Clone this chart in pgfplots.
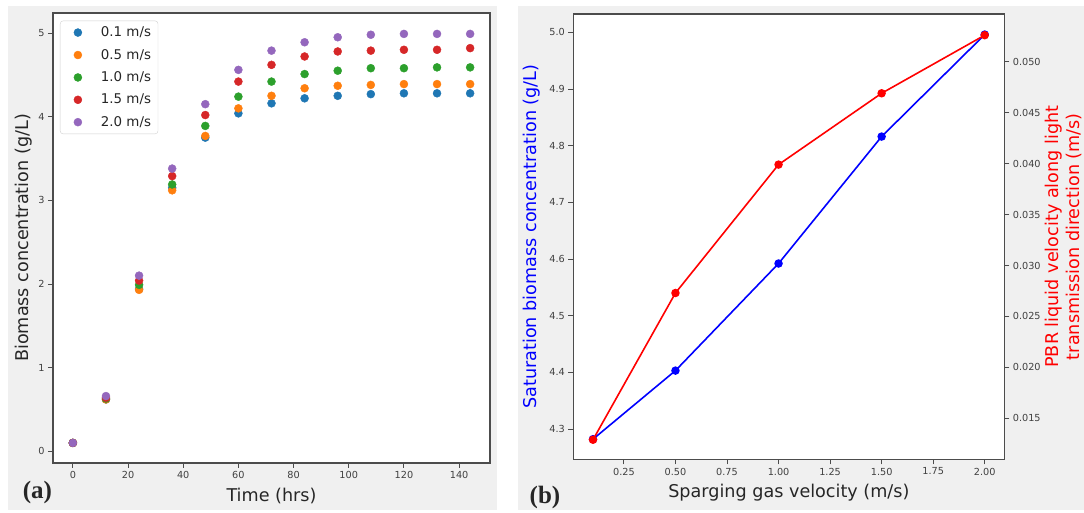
\documentclass[border=0pt]{standalone}
\usepackage{fontspec}
\setmainfont{DejaVu Sans}
\newfontfamily\panelfont{Liberation Serif}
\usepackage{pgfplots}
\usepackage{pgfplotstable}
\pgfplotsset{compat=1.18}
\definecolor{bgray}{HTML}{F0F0F0}
\definecolor{tabblue}{HTML}{1F77B4}
\definecolor{taborange}{HTML}{FF7F0E}
\definecolor{tabgreen}{HTML}{2CA02C}
\definecolor{tabred}{HTML}{D62728}
\definecolor{tabpurple}{HTML}{9467BD}

\pgfplotstableread{
t   v01  v05  v10  v15  v20
0   0.10 0.10 0.10 0.10 0.10
12  0.62 0.62 0.63 0.64 0.66
24  1.94 1.93 1.99 2.04 2.10
36  3.15 3.12 3.19 3.29 3.38
48  3.75 3.77 3.89 4.02 4.15
60  4.04 4.10 4.24 4.42 4.56
72  4.16 4.25 4.42 4.62 4.79
84  4.22 4.34 4.51 4.72 4.89
96  4.25 4.37 4.55 4.78 4.95
108 4.27 4.38 4.58 4.79 4.98
120 4.28 4.39 4.58 4.80 4.99
132 4.28 4.39 4.59 4.80 4.99
144 4.28 4.39 4.59 4.82 4.99
}\growth

\pgfplotstableread{
v   sat   liq
0.1 4.282 0.0129
0.5 4.403 0.0273
1.0 4.592 0.0399
1.5 4.816 0.0469
2.0 4.996 0.0526
}\satdata

\pgfplotsset{
  mystyle/.style={
    scale only axis,
    axis line style={black!70, line width=1.1pt},
    every tick/.style={black!70, line width=0.9pt},
    tick align=outside,
    major tick length=5pt,
    tick label style={font=\fontsize{9.7pt}{11pt}\selectfont, text=black!75},
    label style={font=\fontsize{17.6pt}{20.5pt}\selectfont, text=black!85},
    /pgf/number format/assume math mode=true,
  },
}

\begin{document}
\begin{tikzpicture}
\path[use as bounding box, fill=white] (0pt,0pt) rectangle (1084pt,513pt);
\fill[bgray] (8pt,3pt) rectangle (497pt,507pt);
\fill[bgray] (518pt,3pt) rectangle (1084pt,507pt);

% ---------- panel (a) ----------
\begin{axis}[mystyle,
  axis background/.style={fill=white},
  at={(53pt,50pt)}, anchor=south west,
  width=437pt, height=450pt,
  xmin=-7.2, xmax=151.2, ymin=-0.14, ymax=5.24,
  xtick={0,20,40,60,80,100,120,140},
  ytick={0,1,2,3,4,5},
  tick pos=left,
  xlabel={Time (hrs)},
  ylabel={Biomass concentration (g/L)},
  xlabel style={at={(axis description cs:0.5,-0.0733)}, anchor=center},
  ylabel style={at={(axis description cs:-0.0675,0.5)}, anchor=center},
  legend style={at={(axis description cs:0.016,0.983)}, anchor=north west,
    draw=black!18, rounded corners=3pt, fill=white,
    font=\fontsize{13.4pt}{15pt}\selectfont, text=black!85,
    inner xsep=5pt, inner ysep=4pt, row sep=7pt},
  legend cell align=left,
  legend image code/.code={\path[draw=none,fill=none] (0pt,0pt) -- (33.7pt,0pt);
    \draw[#1] plot[only marks] coordinates {(12.7pt,0pt)};},
]
\addplot[only marks, mark=*, mark size=4pt, color=tabblue] table[x=t,y=v01]{\growth};
\addlegendentry{0.1 m/s}
\addplot[only marks, mark=*, mark size=4pt, color=taborange] table[x=t,y=v05]{\growth};
\addlegendentry{0.5 m/s}
\addplot[only marks, mark=*, mark size=4pt, color=tabgreen] table[x=t,y=v10]{\growth};
\addlegendentry{1.0 m/s}
\addplot[only marks, mark=*, mark size=4pt, color=tabred] table[x=t,y=v15]{\growth};
\addlegendentry{1.5 m/s}
\addplot[only marks, mark=*, mark size=4pt, color=tabpurple] table[x=t,y=v20]{\growth};
\addlegendentry{2.0 m/s}
\end{axis}

% ---------- panel (b) ----------
\begin{axis}[mystyle,
  axis background/.style={fill=white},
  at={(573.4pt,53.7pt)}, anchor=south west,
  width=430.9pt, height=445.3pt,
  xmin=0.005, xmax=2.095, ymin=4.2465, ymax=5.0323,
  xtick={0.25,0.5,0.75,1.0,1.25,1.5,1.75,2.0},
  ytick={4.3,4.4,4.5,4.6,4.7,4.8,4.9,5.0},
  tick pos=left,
  xticklabel style={/pgf/number format/.cd, fixed, fixed zerofill, precision=2},
  yticklabel style={/pgf/number format/.cd, fixed, fixed zerofill, precision=1},
  xlabel={Sparging gas velocity (m/s)},
  ylabel={Saturation biomass concentration (g/L)},
  xlabel style={at={(axis description cs:0.5,-0.0757)}, anchor=center},
  ylabel style={at={(axis description cs:-0.0974,0.5)}, anchor=center, text=blue},
]
\addplot[blue, line width=1.6pt, mark=*, mark size=3.4pt, mark options={solid}] table[x=v,y=sat]{\satdata};
\end{axis}

\begin{axis}[mystyle,
  at={(573.4pt,53.7pt)}, anchor=south west,
  width=430.9pt, height=445.3pt,
  xmin=0.005, xmax=2.095, ymin=0.01098, ymax=0.05468,
  axis x line=none, axis y line*=right,
  ytick={0.015,0.020,0.025,0.030,0.035,0.040,0.045,0.050},
  scaled y ticks=false,
  yticklabel style={/pgf/number format/.cd, fixed, fixed zerofill, precision=3},
  ylabel={PBR liquid velocity along light\\transmission direction (m/s)},
  ylabel style={at={(axis description cs:1.137,0.5)}, anchor=center, align=center, text=red},
]
\addplot[red, line width=1.6pt, mark=*, mark size=3.4pt, mark options={solid}] table[x=v,y=liq]{\satdata};
\end{axis}

\node[font=\panelfont\bfseries\fontsize{25pt}{28pt}\selectfont, text=black!85] at (37.5pt,20.5pt) {(a)};
\node[font=\panelfont\bfseries\fontsize{25pt}{28pt}\selectfont, text=black!85] at (545pt,15.5pt) {(b)};
\end{tikzpicture}
\end{document}
